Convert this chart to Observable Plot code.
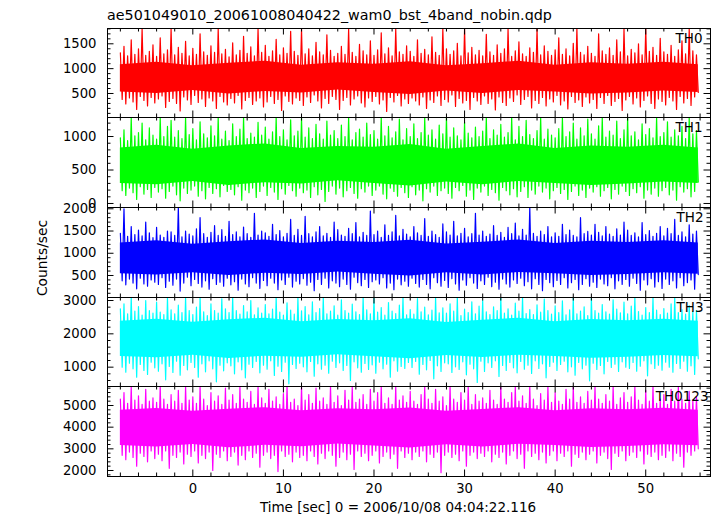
<!DOCTYPE html>
<html><head><meta charset="utf-8">
<script src="https://cdn.jsdelivr.net/npm/d3@7"></script>
<script src="https://cdn.jsdelivr.net/npm/@observablehq/plot@0.6"></script>
<style>
html,body{margin:0;padding:0;background:#fff;}
#chart{position:relative;width:717px;height:516px;overflow:hidden;background:#fff;font-family:"DejaVu Sans",sans-serif;}
#chart svg{position:absolute;left:0;}
</style></head><body><div id="chart"></div>
<script>
const title = "ae501049010_20061008040422_wam0_bst_4band_nobin.qdp";
const xLabel = "Time [sec] 0 = 2006/10/08 04:04:22.116";
const yLabel = "Counts/sec";
const bands = ["TH0", "TH1", "TH2", "TH3", "TH0123"];
const colors = ["#ff0000", "#00ff00", "#0000ff", "#00ffff", "#ff00ff"];
const t0 = -8, dt = 0.2, coreStep = 4;

const th0 = [
1320,380,1450,290,1260,410,1580,330,1290,180,1400,440,1800,360,1270,250,1350,420,1480,310,
1250,390,1620,450,1300,220,1380,340,1800,400,1280,300,1430,150,1310,430,1550,370,1260,280,
1410,460,1290,320,1700,390,1340,240,1270,410,1460,350,1330,200,1800,440,1300,330,1390,270,
1240,400,1520,310,1280,460,1370,190,1650,360,1310,420,1440,280,1260,350,1800,410,1330,230,
1470,330,1250,440,1360,300,1590,380,1280,160,1420,450,1310,340,1750,290,1350,410,1270,360,
1800,260,1300,430,1400,320,1260,470,1530,350,1340,210,1280,400,1680,300,1370,440,1250,380,
1310,180,1450,360,1290,420,1800,270,1330,390,1250,450,1490,310,1360,230,1280,410,1560,340,
1270,440,1380,290,1720,370,1300,140,1420,420,1260,330,1800,460,1340,250,1290,390,1460,300,
1350,410,1250,350,1580,270,1310,430,1390,200,1280,370,1640,320,1330,450,1270,260,1800,380,
1400,330,1290,470,1360,240,1510,400,1260,310,1800,360,1320,180,1430,420,1280,350,1370,280,
1260,450,1690,300,1340,390,1270,170,1480,430,1310,320,1400,260,1800,410,1250,340,1360,470,
1540,280,1300,380,1250,440,1420,210,1330,360,1800,300,1280,420,1460,250,1350,390,1270,330,
1380,460,1620,270,1290,350,1400,190,1260,440,1510,320,1800,370,1330,240,1280,430,1450,310,
1310,380,1250,200,1700,420,1360,300,1290,460,1420,260,1270,340,1580,400,1340,160,1800,370,
1260,440,1390,290,1320,410,1500,230,1280,360,1800,450,1350,300,1430,200,1270,390,1610,340,
1340,270,1290,420,1470,350,1250,180,1380,440,1560,310,1300,400,1800,260,1360,430,1280,520];
const th1 = [
980,190,1100,120,940,230,1284,160,1010,60,1060,250,1200,140,950,210,1130,90,1020,240,
960,170,1284,220,1000,80,1150,180,1240,260,990,130,1090,40,970,230,1284,150,1030,200,
1120,260,950,110,1220,190,1040,70,980,240,1160,150,1010,220,1284,100,960,270,1080,180,
940,210,1190,130,1000,250,1110,50,1284,200,970,160,1050,230,990,90,1210,180,1020,260,
1140,120,960,240,1070,170,1284,60,1000,220,1100,140,950,270,1250,190,1010,110,1080,230,
1284,160,990,200,1130,90,970,250,1180,130,1040,210,960,30,1230,180,1020,260,1090,140,
970,230,1170,100,1000,190,1284,240,950,150,1060,80,1110,220,990,170,1200,260,1030,120,
1090,200,960,260,1284,140,1010,70,1150,230,980,180,1070,110,1260,240,950,160,1120,90,
1000,250,1190,130,970,200,1060,40,1284,220,1020,170,1100,260,960,120,1170,190,1040,230,
1284,150,990,80,1130,240,1010,190,950,270,1210,110,1050,200,980,60,1140,230,1000,170,
1080,260,1284,120,970,210,1100,160,1020,50,1180,240,990,190,1060,130,1284,220,950,100,
1150,180,1000,250,1240,90,1030,200,970,140,1090,260,1284,170,960,230,1110,70,1020,190,
980,240,1120,150,1284,210,1000,60,1070,180,1200,260,960,120,1130,200,1010,90,1260,230,
1040,170,960,250,1160,110,1284,190,990,240,1080,70,1020,210,1230,140,970,260,1100,180,
1284,120,1010,220,1070,160,950,250,1190,80,1030,200,1120,140,980,230,1284,110,1000,190,
1060,240,1220,130,990,200,1100,50,1010,250,1150,170,970,220,1284,100,1040,180,1090,320];
const th2 = [
1450,380,2000,290,1380,420,1600,330,1420,200,1520,440,1390,310,1700,260,1460,400,1350,350,
1580,300,1410,450,1360,230,1500,370,1480,280,1400,420,2029,150,1370,330,1500,460,1430,270,
1390,410,1550,320,1800,240,1440,380,1360,190,1470,430,1620,300,1400,350,1530,260,1380,440,
1720,290,1420,360,1480,170,1370,420,1590,310,1440,250,1360,450,1900,330,1410,210,1500,390,
1460,270,1380,440,1650,330,1420,180,1510,400,1370,300,1450,460,1760,240,1400,370,1540,310,
1400,430,1830,280,1440,350,1370,160,1480,410,1600,300,1390,440,1450,220,1360,380,1700,330,
1530,250,1410,420,1380,300,1560,190,1440,460,1690,340,1370,270,1470,410,1400,230,1950,360,
1420,400,1500,310,1360,450,1640,220,1400,330,1480,180,1850,420,1390,290,1540,370,1430,260,
1370,440,1600,320,1460,240,1400,410,1780,300,1380,200,1500,450,1420,340,1360,260,1660,390,
1480,230,1410,430,1720,310,1390,170,1450,400,1560,280,1370,450,1440,330,1900,210,1410,380,
1500,300,1380,460,1430,250,1620,350,1400,190,1470,420,1360,310,1580,240,1440,400,1680,320,
1390,440,1540,270,1410,360,2029,200,1450,430,1380,300,1500,160,1420,410,1600,340,1370,250,
1460,390,1380,300,1650,450,1420,220,1520,340,1400,410,1370,180,1800,300,1440,430,1490,260,
1410,350,1650,230,1470,420,1390,310,1600,270,1430,450,1380,200,1550,380,1410,300,1700,410,
1520,260,1400,440,1460,320,1370,170,1690,400,1420,290,1510,430,1380,240,1450,360,1600,210,
1390,420,1560,300,1440,380,1760,220,1400,450,1480,270,1370,340,1640,400,1430,190,1500,520];
const th3 = [
2750,1000,2900,850,2600,1120,3090,950,2680,700,2820,1080,2560,900,3000,780,2700,1150,2620,980,
2950,880,2650,1100,2580,620,3090,1020,2720,840,2600,1180,2860,760,2640,1050,3090,920,2700,1140,
2580,990,2800,700,3090,1100,2660,860,2550,1190,2900,950,2700,560,2620,1060,3050,890,2750,1130,
2640,1040,3090,800,2700,1160,2590,920,2850,680,2660,1090,3000,990,2570,1170,2780,830,2620,1060,
2880,940,2600,1190,2740,750,3090,1030,2650,870,2560,1150,2930,500,2710,1080,2590,960,3070,1120,
2690,1010,2820,860,2570,1170,2960,730,2640,1100,2760,940,3090,1060,2600,820,2680,1180,2840,990,
2560,1130,3020,900,2700,1050,2620,600,2890,1160,2660,980,2580,850,3090,1110,2720,930,2600,1070,
3090,820,2650,1150,2790,950,2560,1090,2940,700,2680,1190,2610,880,2860,1020,3090,960,2570,1140,
2730,990,2590,1170,3060,790,2660,1080,2800,920,2570,1200,2710,650,3090,1040,2630,870,2780,1130,
2620,1100,2900,840,2680,1010,3090,930,2550,1160,2740,770,2640,1090,2960,950,2600,540,2830,1180,
3000,870,2660,1130,2580,990,2810,1190,2700,720,3090,1050,2620,900,2750,1140,2560,980,2920,830,
2680,1170,3090,940,2610,1060,2730,810,2580,1190,2870,960,2650,1100,3040,680,2700,1020,2590,1150,
2840,900,2640,1080,2990,1180,2570,860,2720,1010,3090,760,2600,1140,2680,950,2810,1060,2550,590,
3090,1120,2700,930,2620,1050,2880,800,2660,1170,2590,990,3020,1090,2740,870,2630,1160,2950,1000,
2600,960,2830,1140,3090,880,2670,1030,2560,1190,2790,740,2640,1100,3080,960,2710,1060,2580,910,
2760,1150,2620,1000,2900,850,3090,1110,2640,960,2730,1180,2590,880,2850,1040,2670,780,2700,1250];
const th0123 = [
5300,2700,5600,2500,5100,2850,5877,2600,5250,2200,5450,2800,5050,2650,5750,2400,5200,2900,5350,2550,
5150,2750,5877,2450,5300,2900,5050,2100,5500,2700,5200,2600,5700,2850,5100,2300,5877,2750,5250,2650,
5400,2900,5100,2350,5877,2700,5300,2550,5000,2850,5600,2000,5200,2750,5450,2600,5050,2900,5800,2450,
5250,2650,5500,2850,5100,2250,5877,2700,5300,2500,5150,2900,5650,2600,5050,2800,5877,2150,5350,2700,
5100,2850,5750,2550,5200,2700,5400,1950,5050,2900,5550,2650,5877,2750,5150,2400,5300,2850,5000,2600,
5877,2700,5250,2450,5500,2900,5100,2650,5800,2300,5200,2800,5350,2550,5050,2900,5877,2700,5150,2200,
5450,2600,5000,2850,5700,2500,5250,2750,5877,2050,5150,2900,5300,2650,5500,2800,5050,2450,5750,2700,
5200,2900,5600,2350,5877,2650,5100,2850,5350,2550,5050,2750,5877,2100,5250,2900,5450,2600,5150,2800,
5650,2500,5200,2850,5050,2650,5500,2900,5877,2400,5300,2750,5100,2600,5750,2850,5200,1900,5400,2700,
5000,2850,5877,2600,5300,2750,5150,2450,5600,2900,5250,2200,5877,2700,5050,2850,5500,2550,5200,2800,
5350,2650,5100,2900,5700,2400,5250,2750,5050,2600,5877,2850,5300,2300,5150,2700,5600,2900,5877,2550,
5200,2750,5450,2100,5100,2900,5877,2650,5300,2800,5000,2500,5550,2850,5250,2350,5877,2700,5150,2900,
5600,2450,5200,2800,5050,2650,5750,2900,5300,2200,5877,2750,5150,2600,5400,2850,5100,2500,5650,2750,
5250,2900,5877,2350,5300,2700,5100,2850,5500,2550,5200,2050,5877,2800,5050,2650,5350,2900,5600,2450,
5150,2700,5400,2850,5877,2600,5250,2900,5050,2300,5700,2750,5200,2650,5877,2850,5100,2500,5300,2700,
5500,2600,5050,2900,5750,2450,5200,2800,5877,2650,5300,2150,5100,2850,5650,2700,5250,2900,5400,3000];

const th0Lo = [530,500,560,490,540,510,570,520,480,550,500,560,530,490,510,550,520];
const th0Hi = [1080,1130,1060,1110,1150,1070,1120,1090,1140,1060,1100,1150,1070,1120,1090,1130,1080];
const th1Lo = [300,280,330,270,310,290,340,300,260,320,280,330,300,270,290,320,300];
const th1Hi = [830,870,810,860,890,820,850,840,880,810,850,890,820,860,840,870,830];
const th2Lo = [540,510,560,500,550,520,580,530,490,560,510,570,540,500,520,560,530];
const th2Hi = [1230,1280,1200,1260,1300,1220,1270,1240,1290,1210,1250,1300,1220,1270,1240,1280,1230];
const th3Lo = [1320,1280,1360,1260,1330,1300,1370,1310,1250,1350,1290,1360,1320,1270,1300,1350,1310];
const th3Hi = [2380,2440,2350,2420,2470,2360,2430,2390,2450,2340,2410,2470,2360,2430,2390,2440,2380];
const th0123Lo = [3150,3080,3200,3050,3160,3100,3220,3130,3040,3190,3090,3210,3150,3060,3110,3190,3140];
const th0123Hi = [4780,4860,4740,4830,4900,4760,4850,4800,4880,4730,4820,4900,4760,4850,4800,4870,4780];

const yDomains = [[17, 1808], [-60, 1284], [5, 2029], [420, 3090], [1723, 5877]];
const yMajor = [[500, 1000, 1500], [0, 500, 1000], [500, 1000, 1500, 2000], [1000, 2000, 3000], [2000, 3000, 4000, 5000]];
const yMinorStep = [100, 100, 100, 200, 200];
const xDomain = [-9.42, 57.15];
const xMajor = [0, 10, 20, 30, 40, 50];
const xMinorStep = 2;

// layout (styles)
const W = 717, ML = 107, MR = 7, FW = W - ML - MR;
const edges = [28, 117, 207, 297, 386, 476];
const labelDx = [-8, -8, -7, -7, -2];
const majLen = 6.5, minLen = 3.5;
const font = "DejaVu Sans";

const series = [th0, th1, th2, th3, th0123];
const cores = [[th0Lo, th0Hi], [th1Lo, th1Hi], [th2Lo, th2Hi], [th3Lo, th3Hi], [th0123Lo, th0123Hi]];

const chart = document.getElementById("chart");
const xMinor = d3.range(Math.ceil(xDomain[0] / xMinorStep) * xMinorStep, xDomain[1], xMinorStep).filter(v => !xMajor.includes(v));

series.forEach((vals, k) => {
  const top = edges[k], bot = edges[k + 1], ph = bot - top;
  const last = k === series.length - 1;
  const mt = 2, mb = last ? 40 : 2;
  const tEnd = t0 + (vals.length - 1) * dt;
  const [lo, hi] = cores[k];
  const coreIdx = d3.range(lo.length);
  const yd = yDomains[k];
  const yMin = d3.range(Math.ceil(yd[0] / yMinorStep[k]) * yMinorStep[k], yd[1], yMinorStep[k]).filter(v => !yMajor[k].includes(v));
  const marks = [
    Plot.areaY(coreIdx, {x: i => Math.min(t0 + i * coreStep, tEnd), y1: i => lo[i], y2: i => hi[i], fill: colors[k], clip: true}),
    Plot.lineY(vals, {x: (d, i) => t0 + i * dt, y: d => d, stroke: colors[k], strokeWidth: 1.2, clip: true}),
    Plot.frame({stroke: "black"}),
    Plot.tickY(yMajor[k], {y: d => d, insetRight: FW - majLen, stroke: "black"}),
    Plot.tickY(yMajor[k], {y: d => d, insetLeft: FW - majLen, stroke: "black"}),
    Plot.tickY(yMin, {y: d => d, insetRight: FW - minLen, stroke: "black"}),
    Plot.tickY(yMin, {y: d => d, insetLeft: FW - minLen, stroke: "black"}),
    Plot.tickX(xMajor, {x: d => d, insetBottom: ph - majLen, stroke: "black"}),
    Plot.tickX(xMajor, {x: d => d, insetTop: ph - majLen, stroke: "black"}),
    Plot.tickX(xMinor, {x: d => d, insetBottom: ph - minLen, stroke: "black"}),
    Plot.tickX(xMinor, {x: d => d, insetTop: ph - minLen, stroke: "black"}),
    Plot.axisY({ticks: yMajor[k], tickSize: 0, tickPadding: 11, tickFormat: d => String(d), label: null, fontSize: 13.2, fill: "black"}),
    Plot.text([bands[k]], {frameAnchor: "top-right", text: d => d, dx: labelDx[k], dy: 4.8, lineAnchor: "top", textAnchor: "end", fontSize: 13.5, fill: "black"})
  ];
  if (last) marks.push(Plot.axisX({ticks: xMajor, tickSize: 0, tickPadding: 7, tickFormat: d => String(d), label: null, fontSize: 13.2, fill: "black"}));
  const svg = Plot.plot({
    width: W, height: ph + mt + mb,
    marginLeft: ML, marginRight: MR, marginTop: mt, marginBottom: mb,
    x: last ? {domain: xDomain} : {domain: xDomain, axis: null},
    y: {domain: yd},
    style: {background: "transparent", fontFamily: font, fontSize: "13.2px", color: "black", overflow: "visible"},
    marks
  });
  svg.style.position = "absolute";
  svg.style.top = (top - mt) + "px";
  svg.style.left = "0px";
  chart.append(svg);
});

const ov = d3.select(chart).append("svg")
  .attr("width", W).attr("height", 516)
  .style("position", "absolute").style("top", "0px").style("left", "0px")
  .style("pointer-events", "none")
  .attr("font-family", font).attr("fill", "black");
ov.append("text").attr("x", 107).attr("y", 19.5).attr("font-size", 14.3).text(title);
ov.append("text").attr("x", 398).attr("y", 511.5).attr("font-size", 13.5).attr("text-anchor", "middle").text(xLabel);
ov.append("text").attr("transform", "translate(47,258) rotate(-90)").attr("font-size", 13.8).attr("text-anchor", "middle").text(yLabel);
</script></body></html>
